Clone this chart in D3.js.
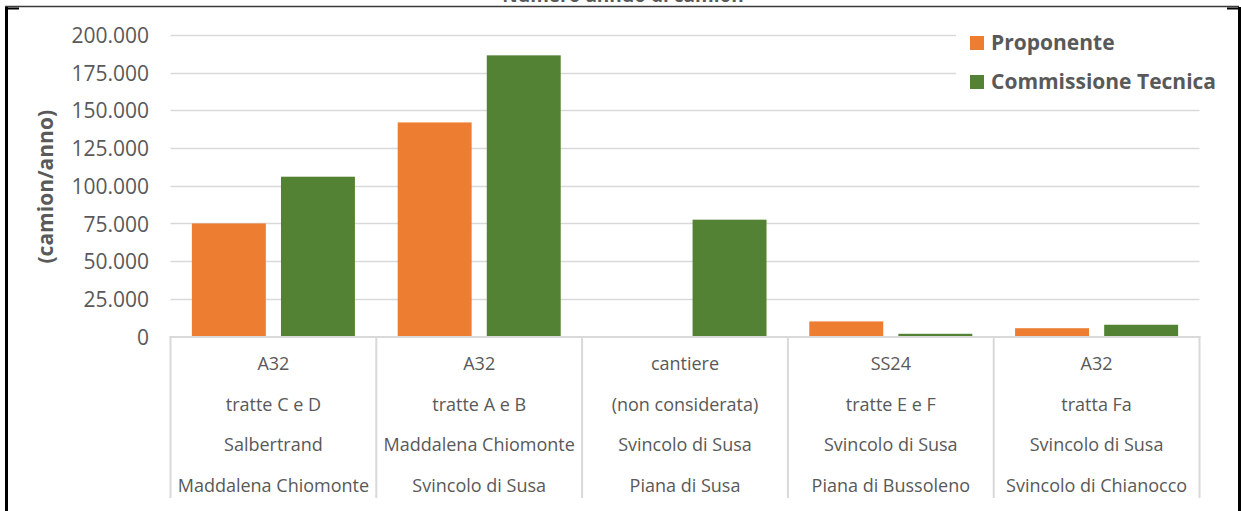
<!DOCTYPE html>
<html>
<head>
<meta charset="utf-8">
<script src="https://cdn.jsdelivr.net/npm/d3@7"></script>
<style>
  html, body { margin: 0; padding: 0; background: #fff; }
  svg { display: block; }
  text { font-family: "Open Sans", "Liberation Sans", sans-serif; fill: #595959; }
</style>
</head>
<body>
<svg id="chart" width="1241" height="511"></svg>
<script>
// Category labels (one array of lines per group)
const categories = [
  ["A32", "tratte C e D", "Salbertrand", "Maddalena Chiomonte"],
  ["A32", "tratte A e B", "Maddalena Chiomonte", "Svincolo di Susa"],
  ["cantiere", "(non considerata)", "Svincolo di Susa", "Piana di Susa"],
  ["SS24", "tratte E e F", "Svincolo di Susa", "Piana di Bussoleno"],
  ["A32", "tratta Fa", "Svincolo di Susa", "Svincolo di Chianocco"]
];
const seriesNames = ["Proponente", "Commissione Tecnica"];
const proponente = [75000, 142000, 0, 10000, 5500];
const commissione = [106000, 186500, 77500, 1800, 7800];
const yTicks = [0, 25000, 50000, 75000, 100000, 125000, 150000, 175000, 200000];
const yTitle = "(camion/anno)";
const chartTitle = "Numero annuo di camion";
const colors = ["#ED7D31", "#548235"];

const svg = d3.select("#chart");
const W = 1241, H = 511;
const plot = { left: 170.5, right: 1199.5, top: 35, bottom: 336.5 };

const itLocale = d3.formatLocale({ decimal: ",", thousands: ".", grouping: [3], currency: ["€", ""] });
const fmt = itLocale.format(",d");

const x0 = d3.scaleBand().domain(d3.range(categories.length)).range([plot.left, plot.right]).padding(0);
const x1 = d3.scaleBand().domain(seriesNames).range([0, x0.bandwidth()]).paddingInner(0.17).paddingOuter(0.24);
const y = d3.scaleLinear().domain([0, 200000]).range([plot.bottom, plot.top]);

// Title (mostly above the top edge of the frame)
svg.append("text")
  .attr("x", 623).attr("y", 1.5)
  .attr("text-anchor", "middle")
  .attr("font-size", 19).attr("font-weight", "bold")
  .attr("fill", "#9a9a9a")
  .text(chartTitle);

// Gridlines
const grid = svg.append("g");
grid.selectAll("line").data(yTicks.filter(d => d > 0)).join("line")
  .attr("x1", plot.left).attr("x2", plot.right)
  .attr("y1", d => Math.round(y(d)) + 0.5).attr("y2", d => Math.round(y(d)) + 0.5)
  .attr("stroke", "#d9d9d9").attr("stroke-width", 1.5);

// Y axis tick labels
const yAxis = d3.axisLeft(y).tickValues(yTicks).tickFormat(d => fmt(d)).tickSize(0).tickPadding(0);
const ya = svg.append("g").attr("transform", `translate(149,0)`).call(yAxis);
ya.select(".domain").remove();
ya.selectAll("text")
  .attr("font-size", 21)
  .attr("font-family", "'Open Sans', sans-serif")
  .attr("fill", "#595959")
  .attr("dy", "0.36em");

// Y axis title
svg.append("text")
  .attr("transform", `translate(53,${(plot.top + plot.bottom) / 2 + 1}) rotate(-90)`)
  .attr("text-anchor", "middle")
  .attr("font-size", 21).attr("font-weight", "bold")
  .text(yTitle);

// Bars
const rows = categories.map((c, i) => ({ i, values: [proponente[i], commissione[i]] }));
const groups = svg.append("g").selectAll("g").data(rows).join("g")
  .attr("transform", d => `translate(${x0(d.i)},0)`);
groups.selectAll("rect")
  .data(d => d.values.map((v, k) => ({ name: seriesNames[k], value: v, k })))
  .join("rect")
  .attr("x", d => x1(d.name))
  .attr("width", x1.bandwidth())
  .attr("y", d => y(d.value))
  .attr("height", d => y(0) - y(d.value))
  .attr("fill", d => colors[d.k]);

// Category axis: baseline and separators
const catAxis = svg.append("g").attr("stroke", "#d9d9d9").attr("stroke-width", 2);
catAxis.append("line")
  .attr("x1", plot.left - 1).attr("x2", plot.right + 1)
  .attr("y1", plot.bottom + 0.5).attr("y2", plot.bottom + 0.5);
const seps = d3.range(categories.length).map(i => x0(i)).concat([plot.right]);
catAxis.selectAll("line.sep").data(seps).join("line").attr("class", "sep")
  .attr("x1", d => d).attr("x2", d => d)
  .attr("y1", plot.bottom).attr("y2", 498);

// Category labels
const lineY = [370, 410.5, 451, 491.5];
const labels = svg.append("g");
categories.forEach((lines, i) => {
  lines.forEach((t, j) => {
    labels.append("text")
      .attr("x", x0(i) + x0.bandwidth() / 2)
      .attr("y", lineY[j])
      .attr("text-anchor", "middle")
      .attr("font-size", 18)
      .text(t);
  });
});

// Legend
const legend = svg.append("g");
legend.append("rect").attr("x", 956).attr("y", 18).attr("width", 272).attr("height", 85).attr("fill", "#fff");
const legY = [36, 75];
seriesNames.forEach((name, k) => {
  legend.append("rect").attr("x", 970).attr("y", legY[k]).attr("width", 14).attr("height", 14).attr("fill", colors[k]);
  legend.append("text").attr("x", 991).attr("y", legY[k] + 14)
    .attr("font-size", 21).attr("font-weight", "bold").text(name);
});

// Frame
const frame = svg.append("g");
frame.append("line").attr("x1", 5).attr("x2", 1239).attr("y1", 6.5).attr("y2", 6.5).attr("stroke", "#3a3a3a").attr("stroke-width", 1.5);
frame.append("line").attr("x1", 6.5).attr("x2", 6.5).attr("y1", 7).attr("y2", H).attr("stroke", "#000").attr("stroke-width", 3);
frame.append("line").attr("x1", 1239.5).attr("x2", 1239.5).attr("y1", 7).attr("y2", H).attr("stroke", "#000").attr("stroke-width", 3);
frame.append("line").attr("x1", 5).attr("x2", 19).attr("y1", 8.5).attr("y2", 8.5).attr("stroke", "#000").attr("stroke-width", 2);
frame.append("line").attr("x1", 1227).attr("x2", 1241).attr("y1", 8.5).attr("y2", 8.5).attr("stroke", "#000").attr("stroke-width", 2);
</script>
</body>
</html>
